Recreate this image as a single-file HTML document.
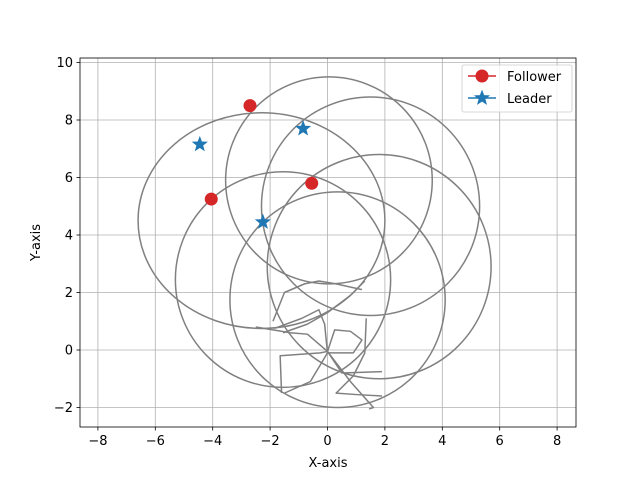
<!DOCTYPE html>
<html><head><meta charset="utf-8"><style>
body{margin:0;background:#fff;}
svg{display:block;font-family:"DejaVu Sans","Liberation Sans",sans-serif;}
</style></head><body>
<svg id="chart" width="640" height="480"></svg>
<script>
const xTicks=[-8,-6,-4,-2,0,2,4,6,8];
const yTicks=[-2,0,2,4,6,8,10];
const circleCx=[0.05,1.5,1.8,-2.3,-1.55,0.35];
const circleCy=[5.9,5.0,2.9,4.5,2.45,1.75];
const circleRx=[3.6,3.8,3.9,4.3,3.75,3.75];
const circleRy=[3.6,3.8,3.9,3.75,3.75,3.75];
const tails=[
 [[-1.85,0.75],[-0.9,1.1],[-0.3,1.4],[-0.1,0.9],[0,-0.1]],
 [[-1.9,1.0],[-1.5,2.0],[-0.8,2.3],[-0.3,2.4],[0.3,2.3],[1.2,2.1]],
 [[-1.6,-1.5],[-1.65,-0.2],[-0.25,-0.1],[0,-0.05],[0.5,-0.8],[1.9,-0.75]],
 [[0,-0.05],[0.25,0.7],[0.8,0.65],[1.2,0.35],[0.9,-0.1],[0.05,-0.1]],
 [[1.35,1.1],[1.3,-0.1],[0.9,-0.9],[0.3,-1.5],[1.0,-1.55],[1.9,-1.6]],
 [[0,-0.05],[0.8,-1.1],[1.6,-2.0],[1.45,-2.05]],
 [[-1.55,0.6],[-0.7,0.9],[0,1.3],[0.8,1.9],[1.3,2.4]],
 [[-1.5,-1.5],[-0.6,-1.1],[0,-0.1]],
 [[-2.5,0.8],[-1.3,0.6],[-0.7,0.55],[0,-0.05]]
];
const followerX=[-2.7,-4.05,-0.55];
const followerY=[8.5,5.25,5.8];
const leaderX=[-4.45,-0.85,-2.25];
const leaderY=[7.15,7.7,4.45];

const L=80,R=576,T=58,B=427;
const sx=v=>327.5+v*28.7;
const sy=v=>350-v*28.75;
const svg=document.getElementById('chart');
const NS='http://www.w3.org/2000/svg';
function mk(t,a){const e=document.createElementNS(NS,t);for(const k in a)e.setAttribute(k,a[k]);svg.appendChild(e);return e;}
let e;
xTicks.forEach(v=>{
 e=mk('line',{x1:sx(v),x2:sx(v),y1:T,y2:B,stroke:'#b0b0b0','stroke-width':0.8});
 
 
 e=mk('line',{x1:sx(v),x2:sx(v),y1:B,y2:B+3.5,stroke:'#000','stroke-width':0.8});
 
 
 e=mk('text',{x:sx(v),y:B+18,'font-size':13,'text-anchor':'middle'});
 e.textContent=(v<0?'\u2212'+(-v):v);
 
 
});
yTicks.forEach(v=>{
 e=mk('line',{x1:L,x2:R,y1:sy(v),y2:sy(v),stroke:'#b0b0b0','stroke-width':0.8});
 
 
 e=mk('line',{x1:L-3.5,x2:L,y1:sy(v),y2:sy(v),stroke:'#000','stroke-width':0.8});
 
 
 e=mk('text',{x:L-7,y:sy(v)+4.5,'font-size':13,'text-anchor':'end'});
 e.textContent=(v<0?'\u2212'+(-v):v);
 
 
});
circleCx.forEach((cx,i)=>{
 e=mk('ellipse',{cx:sx(cx),cy:sy(circleCy[i]),rx:circleRx[i]*28.7,ry:circleRy[i]*28.75,fill:'none',stroke:'#808080','stroke-width':1.5});
 
 
});
tails.forEach(t=>{
 e=mk('polyline',{points:t.map(p=>sx(p[0])+','+sy(p[1])).join(' '),fill:'none',stroke:'#808080','stroke-width':1.5,'stroke-linejoin':'round'});
 
 
});
function star(cx,cy,r){let p=[];for(let i=0;i<10;i++){const a=-Math.PI/2+i*Math.PI/5;const rr=i%2?r*0.42:r;p.push((cx+rr*Math.cos(a)).toFixed(1)+','+(cy+rr*Math.sin(a)).toFixed(1));}return p.join(' ');}
followerX.forEach((x,i)=>{
 e=mk('circle',{cx:sx(x),cy:sy(followerY[i]),r:6.5,fill:'#d62728'});
 
 
});
leaderX.forEach((x,i)=>{
 e=mk('polygon',{points:star(sx(x),sy(leaderY[i]),8.5),fill:'#1f77b4'});
 
 
});
e=mk('rect',{x:L,y:T,width:R-L,height:B-T,fill:'none',stroke:'#000','stroke-width':0.8});


e=mk('text',{x:(L+R)/2,y:467,'font-size':13,'text-anchor':'middle'});e.textContent='X-axis';


e=mk('text',{x:40,y:(T+B)/2,'font-size':13,'text-anchor':'middle',transform:'rotate(-90 40 '+(T+B)/2+')'});e.textContent='Y-axis';


e=mk('rect',{x:462,y:65,width:110,height:47,rx:2,fill:'#fff','fill-opacity':0.8,stroke:'#ccc','stroke-width':0.8});


e=mk('line',{x1:468,x2:496,y1:76,y2:76,stroke:'#d62728','stroke-width':1.5});


e=mk('circle',{cx:482,cy:76,r:6.5,fill:'#d62728'});


e=mk('text',{x:507,y:81,'font-size':13});e.textContent='Follower';


e=mk('line',{x1:468,x2:496,y1:98,y2:98,stroke:'#1f77b4','stroke-width':1.5});


e=mk('polygon',{points:star(482,98,8.5),fill:'#1f77b4'});


e=mk('text',{x:507,y:103,'font-size':13});e.textContent='Leader';


</script>
</body></html>
